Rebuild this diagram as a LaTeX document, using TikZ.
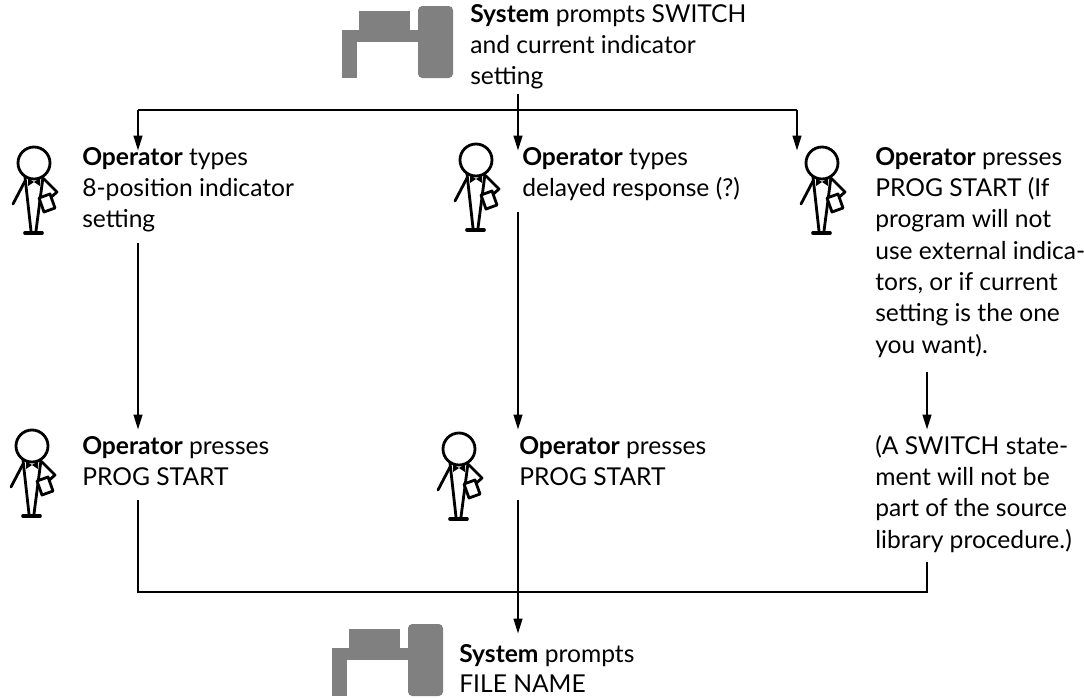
\documentclass[tikz,border=0pt]{standalone}
\usepackage{fontspec}
\setmainfont{Lato}
\usetikzlibrary{arrows.meta}
\newcommand{\textlines}[1]{\begin{tabular}[t]{@{}l@{}}#1\end{tabular}}
\begin{document}
\begin{tikzpicture}[x=0.025cm, y=-0.025cm,
  line/.style={line width=2pt},
  flow/.style={line width=2pt, -{Triangle[length=11pt,width=6pt]}},
  fig/.style={line width=2pt, line cap=round, line join=round},
  icon/.style={fill=black!50},
  txt/.style={anchor=base west, inner sep=0pt, font=\fontsize{17.5}{22.3}\selectfont},
  terminal/.pic={
    \fill[icon] (2,24) rectangle (17,72);
    \fill[icon] (2,24) rectangle (80,36);
    \fill[icon] (19,5) rectangle (70,30);
    \fill[icon, rounded corners=3pt] (78,0) rectangle (113,72);
  },
  operator/.pic={
    \draw[fig] (0,0) circle (16);
    \fill (0,19) -- (-6,15) -- (-6,23) -- cycle;
    \fill (0,19) -- (6,15) -- (6,23) -- cycle;
    \draw[fig] (-9,14) -- (-3,68);
    \draw[fig] (9,14) -- (2,68);
    \draw[fig, line width=2.6pt] (-9,70) -- (8,70);
    \draw[fig] (-9,18) -- (-21,41);
    \draw[fig] (10,16) -- (23,29) -- (14,37);
    \filldraw[fig, fill=white] (5,35) -- (16,31) -- (21,45) -- (10,49) -- cycle;
  }]
\useasboundingbox (0,0) rectangle (1084,697);

% terminals
\pic at (340,6) {terminal};
\pic at (330,624) {terminal};

% operators
\pic at (34,163) {operator};
\pic at (476,160) {operator};
\pic at (822,163) {operator};
\pic at (32,446) {operator};
\pic at (459,449) {operator};

% texts
\node[txt] (sys1) at (470,22) {\textlines{\textbf{System} prompts SWITCH\\and current indicator\\setting}};
\node[txt] (op1) at (82,165) {\textlines{\textbf{Operator} types\\8-position indicator\\setting}};
\node[txt] (op2) at (522,165) {\textlines{\textbf{Operator} types\\delayed response (?)}};
\node[txt] (op3) at (875,165) {\textlines{\textbf{Operator} presses\\PROG START (If\\program will not\\use external indica-\\tors, or if current\\setting is the one\\you want).}};
\node[txt] (op4) at (82,454) {\textlines{\textbf{Operator} presses\\PROG START}};
\node[txt] (op5) at (519,454) {\textlines{\textbf{Operator} presses\\PROG START}};
\node[txt] (note) at (875,454) {\textlines{(A SWITCH state-\\ment will not be\\part of the source\\library procedure.)}};
\node[txt] (sys2) at (459,662) {\textbf{System} prompts};
\node[txt] (sys3) at (459,692) {FILE NAME};

% junctions and arrow ends
\coordinate (cL) at (138,110);
\coordinate (cM) at (518,110);
\coordinate (cR) at (797,110);
\coordinate (bL) at (138,592);
\coordinate (bM) at (518,592);
\coordinate (bR) at (927,592);
\coordinate (mTop) at (518,94);
\coordinate (tL1) at (138,151);
\coordinate (tM1) at (518,151);
\coordinate (tR1) at (797,151);
\coordinate (sL2) at (138,243);
\coordinate (tL2) at (138,430);
\coordinate (sM2) at (518,212);
\coordinate (tM2) at (518,430);
\coordinate (sR2) at (927,372);
\coordinate (tR2) at (927,430);
\coordinate (sL3) at (138,500);
\coordinate (sM3) at (518,500);
\coordinate (tM3) at (518,634);
\coordinate (sR3) at (927,562);

% connectors
\draw[line] (cL) -- (cR);
\draw[flow] (cL) -- (tL1);
\draw[flow] (mTop) -- (tM1);
\draw[flow] (cR) -- (tR1);
\draw[flow] (sL2) -- (tL2);
\draw[flow] (sM2) -- (tM2);
\draw[flow] (sR2) -- (tR2);
\draw[line] (sL3) -- (bL) -- (bR) -- (sR3);
\draw[flow] (sM3) -- (tM3);
\end{tikzpicture}
\end{document}
